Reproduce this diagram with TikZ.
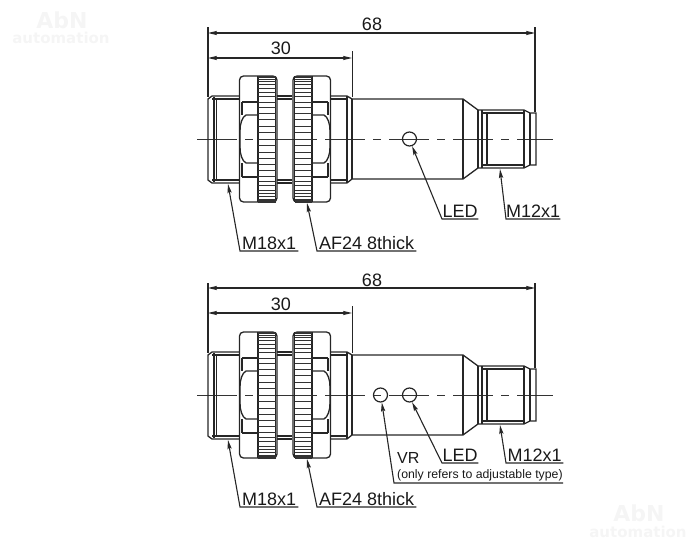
\documentclass[tikz,border=0pt]{standalone}
\usepackage{fontspec}
\setmainfont{Liberation Sans}
\newfontfamily\markfont{DejaVu Sans}
\usetikzlibrary{arrows.meta,positioning}
\tikzset{
    %Define standard arrow tip
    >={Stealth[length=9pt,width=4.2pt,inset=1.5pt]},
    %Define style for outlines
    outline/.style={
           draw=black!85,
           line width=1.3pt},
    knurl/.style={
           draw=black!80,
           line width=.7pt},
    axisline/.style={
           draw=black!80,
           line width=1pt,
           dash pattern=on 40pt off 8pt on 8pt off 8pt},
    %Define style for labels
    lbl/.style={
           anchor=south west,
           inner xsep=0pt,
           inner ysep=1.5pt,
           font=\fontsize{18}{18}\selectfont,
           text=black!90,
           text centered},
    dimtext/.style={
           inner sep=0pt,
           font=\fontsize{18}{18}\selectfont,
           text=black!90},
    ledhole/.style={
           circle,
           draw=black!85,
           line width=1.2pt,
           inner sep=0pt,
           minimum size=14pt},
    % Define arrow style
    pil/.style={
           <-,
           draw=black!85,
           line width=1.1pt},
    dimpil/.style={
           <->,
           draw=black!85,
           line width=1.1pt},
    ext/.style={
           draw=black!85,
           line width=1.1pt},
    wmark/.style={
           inner sep=0pt,
           text=black!4}
}
% one nut, knurled ring and hexagon
\newcommand{\drawnut}{
  \draw[outline,rounded corners=4pt] (239.5,76) rectangle (277,202);
  \draw[outline] (258,76) -- (258,202);
  \draw[outline] (275.5,76) -- (275.5,202);
  \foreach \ang in {-90,-84,...,90}
    \draw[knurl] (258,{139+63*sin(\ang)}) -- (275.5,{139+63*sin(\ang)});
  \draw[outline] (242,102) -- (258,102) (242,177) -- (258,177);
  \draw[outline] (242,102) -- (242,115) (242,163) -- (242,177);
  \draw[outline] (258,115) -- (246,115) .. controls (242,117) and (240,124) .. (240,131)
     -- (240,147) .. controls (240,154) and (242,161) .. (246,163) -- (258,163);
}
% sensor housing around an axis at y=139
\newcommand{\drawbody}{
  \draw[axisline] (197,139) -- (553,139);
  % front thread
  \draw[outline] (239,96) -- (212,96) -- (208,99) -- (208,180) -- (212,183) -- (239,183);
  \draw[outline] (212,99) -- (239,99) (212,180) -- (239,180);
  \draw[outline] (214,97) -- (214,182) (216.5,99) -- (216.5,180);
  \draw[outline] (277,96) -- (292,96) (277,99) -- (292,99);
  \draw[outline] (277,183) -- (292,183) (277,180) -- (292,180);
  \draw[outline] (330,96) -- (347,96) -- (352,99) (330,183) -- (347,183) -- (352,179);
  \draw[outline] (330,99) -- (347,99) (330,180) -- (347,180) (347,96) -- (347,183) (352,99) -- (352,179);
  % rear housing
  \draw[outline] (352,99) -- (463,99) -- (478,110) (352,179) -- (463,179) -- (478,168);
  \draw[outline] (463,99) -- (463,179);
  % connector
  \draw[outline] (478,110) -- (478,168) (482,110) -- (482,168) (487,113) -- (487,165);
  \draw[outline] (478,110) -- (524,110) -- (530,113) -- (536,113) -- (536,165) -- (530,165) -- (524,168) -- (478,168);
  \draw[outline] (482,113) -- (524,113) (482,165) -- (524,165);
  \draw[outline] (524,110) -- (524,168) (530,113) -- (530,165);
  \drawnut
  \begin{scope}[shift={(570,0)},xscale=-1]
    \drawnut
  \end{scope}
}
\begin{document}
\begin{tikzpicture}[x=1pt,y=-1pt]
\useasboundingbox (0,0) rectangle (699,546);
% watermarks
\node[wmark,font=\markfont\bfseries\fontsize{22}{22}\selectfont] (mark1) at (62,20){AbN};
\node[wmark,font=\markfont\bfseries\fontsize{15}{15}\selectfont] (mark2) at (61,38){automation};
\node[wmark,font=\markfont\bfseries\fontsize{22}{22}\selectfont] (mark3) at (639,513){AbN};
\node[wmark,font=\markfont\bfseries\fontsize{15}{15}\selectfont] (mark4) at (638,532){automation};
% upper sensor
\drawbody
\coordinate (topa) at (208,33);
\coordinate (topb) at (535,33);
\coordinate (topc) at (208,58);
\coordinate (topd) at (352,58);
\draw[ext] (208,27) -- (208,97) (535,27) -- (535,112) (352.5,51) -- (352.5,97);
\draw[dimpil] (topa) -- (topb);
\draw[dimpil] (topc) -- (topd);
\node[dimtext] (top68) at (372,24){68};
\node[dimtext] (top30) at (281,48){30};
\node[ledhole] (led1) at (409.5,139){};
\node[lbl,minimum width=58pt] (m18a) at (240,251){M18x1};
\node[lbl,minimum width=99pt] (af24a) at (317,251){AF24 8thick};
\node[lbl,minimum width=36pt] (leda) at (442,219){LED};
\node[lbl,minimum width=54pt] (m12a) at (506,219){M12x1};
\coordinate (m18atip) at (228,184);
\coordinate (af24atip) at (307,203);
\coordinate (m12atip) at (500,169);
\draw[pil] (m18atip) -- (m18a.south west) -- (m18a.south east);
\draw[pil] (af24atip) -- (af24a.south west) -- (af24a.south east);
\draw[pil] (led1.-70) -- (leda.south west) -- (leda.south east);
\draw[pil] (m12atip) -- (m12a.south west) -- (m12a.south east);
% lower sensor
\begin{scope}[yshift=-256pt]
\drawbody
\end{scope}
\coordinate (bota) at (208,288);
\coordinate (botb) at (535,288);
\coordinate (botc) at (208,313);
\coordinate (botd) at (352,313);
\draw[ext] (208,283) -- (208,353) (535,283) -- (535,368) (352.5,306) -- (352.5,353);
\draw[dimpil] (bota) -- (botb);
\draw[dimpil] (botc) -- (botd);
\node[dimtext] (bot68) at (372,280){68};
\node[dimtext] (bot30) at (281,304){30};
\node[ledhole] (led2) at (409.5,395){};
\node[ledhole] (vr2) at (380.5,395){};
\node[lbl,minimum width=58pt] (m18b) at (240,507){M18x1};
\node[lbl,minimum width=99pt] (af24b) at (317,507){AF24 8thick};
\node[lbl,minimum width=36pt] (ledb) at (442,463){LED};
\node[lbl,minimum width=57pt] (m12b) at (506,463){M12x1};
\coordinate (vrknee) at (394,483);
\coordinate (vrend) at (563,483);
\coordinate (m18btip) at (228,440);
\coordinate (af24btip) at (307,459);
\coordinate (m12btip) at (500,425);
\node[dimtext,font=\fontsize{16}{16}\selectfont,anchor=base west] (vrtext) at (397,463){VR};
\node[dimtext,font=\fontsize{12.3}{12}\selectfont,anchor=base west] (vrnote) at (397,478){(only refers to adjustable type)};
\draw[pil] (m18btip) -- (m18b.south west) -- (m18b.south east);
\draw[pil] (af24btip) -- (af24b.south west) -- (af24b.south east);
\draw[pil] (led2.-70) -- (ledb.south west) -- (ledb.south east);
\draw[pil] (m12btip) -- (m12b.south west) -- (m12b.south east);
\draw[pil] (vr2.-80) -- (vrknee) -- (vrend);
\end{tikzpicture}
\end{document}
